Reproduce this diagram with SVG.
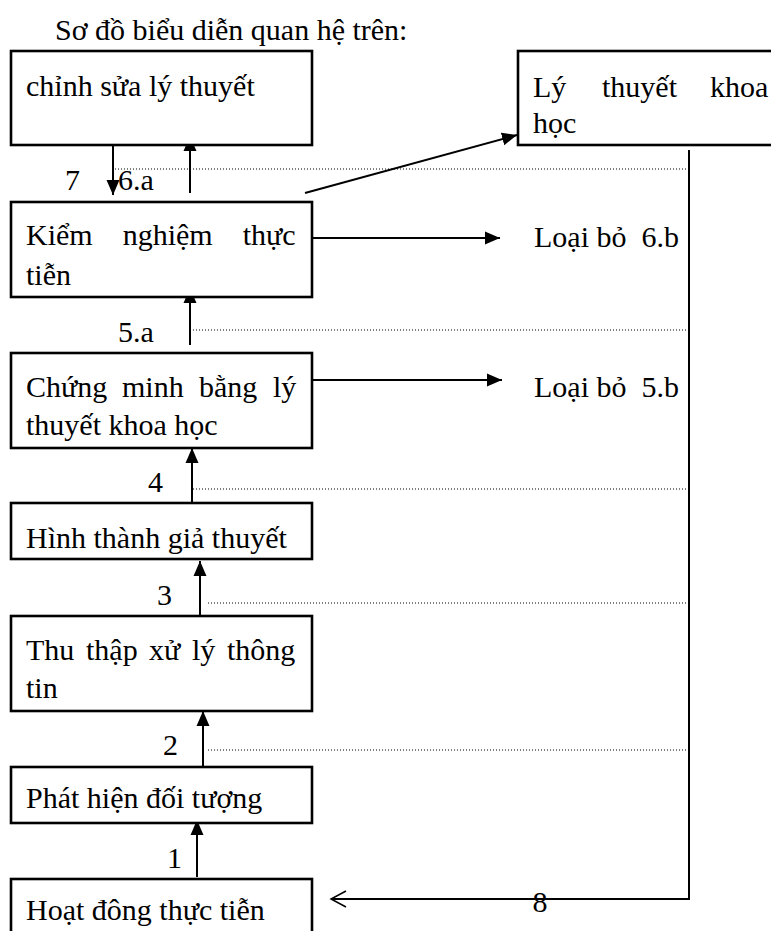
<svg xmlns="http://www.w3.org/2000/svg" width="771" height="931" viewBox="0 0 771 931">
<style>
text{font-family:"Liberation Serif","Times New Roman",serif;font-size:30px;fill:#000}
.box{fill:#fff;stroke:#000;stroke-width:2.6}
.ln{stroke:#000;stroke-width:2;fill:none}
.dot{stroke:#000;stroke-width:1;stroke-dasharray:1 2;fill:none}
</style>
<defs>
<marker id="ah" markerUnits="userSpaceOnUse" markerWidth="16" markerHeight="14" refX="15" refY="7" orient="auto">
<path d="M0,0.5 L15,7 L0,13.5 z" fill="#000"/>
</marker>
</defs>
<rect width="771" height="931" fill="#fff"/>
<text x="55" y="40">Sơ đồ biểu diễn quan hệ trên:</text>

<g id="connectors">
<line class="dot" x1="115" y1="169" x2="688" y2="169"/>
<line class="dot" x1="193" y1="330" x2="688" y2="330"/>
<line class="dot" x1="193" y1="489" x2="688" y2="489"/>
<line class="dot" x1="208" y1="603" x2="688" y2="603"/>
<line class="dot" x1="208" y1="750" x2="688" y2="750"/>
<line class="ln" x1="113" y1="137" x2="113" y2="195" marker-end="url(#ah)"/>
<line class="ln" x1="190" y1="193" x2="190" y2="136" marker-end="url(#ah)"/>
<line class="ln" x1="305" y1="193" x2="517" y2="135" marker-end="url(#ah)"/>
<line class="ln" x1="312" y1="238" x2="500" y2="238" marker-end="url(#ah)"/>
<line class="ln" x1="190" y1="345" x2="190" y2="288" marker-end="url(#ah)"/>
<line class="ln" x1="312" y1="380" x2="502" y2="380" marker-end="url(#ah)"/>
<line class="ln" x1="192" y1="505" x2="192" y2="448" marker-end="url(#ah)"/>
<line class="ln" x1="200" y1="618" x2="200" y2="561" marker-end="url(#ah)"/>
<line class="ln" x1="203" y1="768" x2="203" y2="711" marker-end="url(#ah)"/>
<line class="ln" x1="197" y1="877" x2="197" y2="820" marker-end="url(#ah)"/>
<polyline class="ln" points="689,150 689,899 331,899"/>
<polyline class="ln" points="346,891 331,899 346,907" style="stroke-width:1.5"/>
<text x="65" y="190">7</text>
<text x="118" y="190">6.a</text>
<text x="118" y="342">5.a</text>
<text x="148" y="492">4</text>
<text x="157" y="605">3</text>
<text x="163" y="755">2</text>
<text x="167" y="868">1</text>
<text x="540" y="912" text-anchor="middle">8</text>
</g>

<g id="n-chinhsua">
<rect class="box" x="11" y="51" width="301" height="94"/>
<text x="26" y="96">chỉnh sửa lý thuyết</text>
</g>
<g id="n-lythuyet">
<rect class="box" x="518" y="51" width="260" height="94"/>
<text y="97"><tspan x="533">Lý</tspan><tspan x="602">thuyết</tspan><tspan x="710">khoa</tspan></text>
<text x="533" y="133">học</text>
</g>
<g id="n-kiemnghiem">
<rect class="box" x="11" y="202" width="301" height="95"/>
<text y="245"><tspan x="26">Kiểm</tspan><tspan x="122.7">nghiệm</tspan><tspan x="242.7">thực</tspan></text>
<text x="26" y="285">tiễn</text>
</g>
<g id="n-loaibo6">
<text x="534" y="247" xml:space="preserve">Loại bỏ  6.b</text>
</g>
<g id="n-chungminh">
<rect class="box" x="11" y="353" width="301" height="95"/>
<text y="397"><tspan x="26">Chứng</tspan><tspan x="122">minh</tspan><tspan x="199">bằng</tspan><tspan x="273">lý</tspan></text>
<text x="26" y="435">thuyết khoa học</text>
</g>
<g id="n-loaibo5">
<text x="534" y="397" xml:space="preserve">Loại bỏ  5.b</text>
</g>
<g id="n-hinhthanh">
<rect class="box" x="11" y="503" width="301" height="56"/>
<text x="26" y="548">Hình thành giả thuyết</text>
</g>
<g id="n-thuthap">
<rect class="box" x="11" y="616" width="301" height="95"/>
<text y="660"><tspan x="26">Thu</tspan><tspan x="86">thập</tspan><tspan x="149">xử</tspan><tspan x="192">lý</tspan><tspan x="227">thông</tspan></text>
<text x="26" y="698">tin</text>
</g>
<g id="n-phathien">
<rect class="box" x="11" y="767" width="301" height="56"/>
<text x="26" y="808">Phát hiện đối tượng</text>
</g>
<g id="n-hoatdong">
<rect class="box" x="11" y="879" width="301" height="70"/>
<text x="26" y="920">Hoạt đông thực tiễn</text>
</g>
</svg>
